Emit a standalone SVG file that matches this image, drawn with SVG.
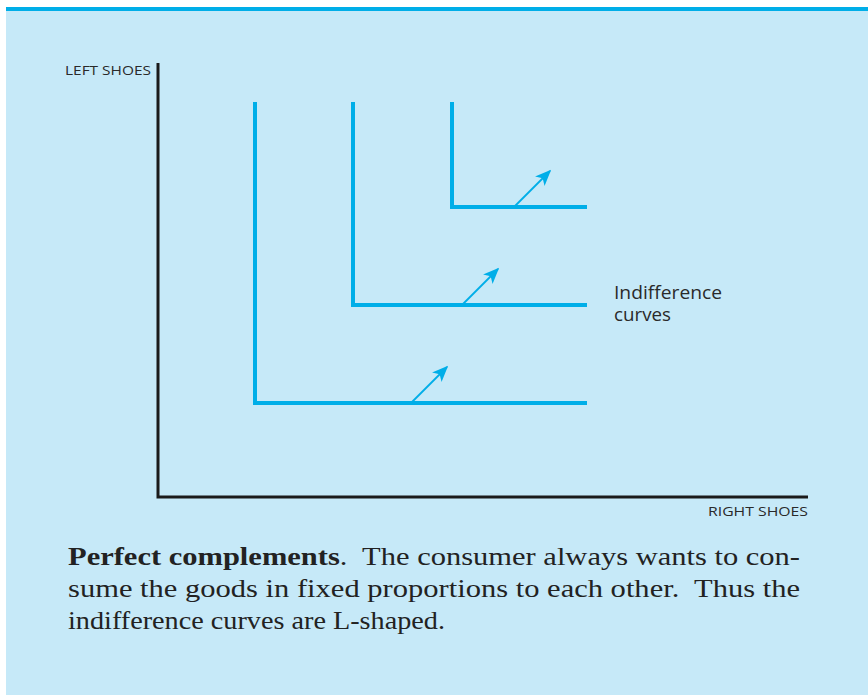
<svg xmlns="http://www.w3.org/2000/svg" width="868" height="695" viewBox="0 0 868 695">
<style>
.curve{fill:none;stroke:#00aee8;stroke-width:4;stroke-linecap:square}
.axis{fill:none;stroke:#1a1a1a;stroke-width:3}
.arr{stroke:#00aee8;stroke-width:1.8;fill:none}
.lab{font-family:"Open Sans","Liberation Sans",sans-serif;fill:#2a2a2a}
.cap{font-family:"Liberation Serif","DejaVu Serif",serif;font-size:26px;fill:#222}
</style>
<defs>
<marker id="ah" viewBox="0 0 10 10" refX="9" refY="5" markerWidth="16" markerHeight="16" markerUnits="userSpaceOnUse" orient="auto">
<path d="M0,0.8 L10,5 L0,9.2 L2.5,5 Z" fill="#00aee8"/>
</marker>
</defs>
<rect x="0" y="0" width="868" height="695" fill="#ffffff"/>
<rect x="6" y="9" width="862" height="686" fill="#c6e9f8"/>
<rect x="6" y="7" width="862" height="4" fill="#00aee8"/>
<g id="axes">
<path class="axis" d="M158,63 V497 H808"/>
<text class="lab" x="65" y="75" font-size="13.5" textLength="86" lengthAdjust="spacingAndGlyphs">LEFT SHOES</text>
<text class="lab" x="708" y="516" font-size="13.5" textLength="100" lengthAdjust="spacingAndGlyphs">RIGHT SHOES</text>
</g>
<g id="curve1"><path class="curve" d="M255,104 V403 H585"/></g>
<g id="curve2"><path class="curve" d="M353,104 V305 H585"/></g>
<g id="curve3"><path class="curve" d="M452,104 V207 H585"/></g>
<g id="connectors">
<line class="arr" x1="411" y1="403" x2="447" y2="367" marker-end="url(#ah)"/>
<line class="arr" x1="462" y1="305" x2="498" y2="269" marker-end="url(#ah)"/>
<line class="arr" x1="514" y1="207" x2="550" y2="171" marker-end="url(#ah)"/>
</g>
<g id="label">
<text class="lab" x="614" y="299" font-size="17.5" textLength="108" lengthAdjust="spacingAndGlyphs">Indifference</text>
<text class="lab" x="614" y="321" font-size="17.5" textLength="57" lengthAdjust="spacingAndGlyphs">curves</text>
</g>
<g id="caption">
<text class="cap" x="68" y="565" textLength="732" lengthAdjust="spacingAndGlyphs"><tspan font-weight="bold">Perfect complements</tspan>.&#160; The consumer always wants to con-</text>
<text class="cap" x="68" y="597" textLength="732" lengthAdjust="spacingAndGlyphs">sume the goods in fixed proportions to each other.&#160; Thus the</text>
<text class="cap" x="68" y="629" textLength="377" lengthAdjust="spacingAndGlyphs">indifference curves are L-shaped.</text>
</g>
</svg>
